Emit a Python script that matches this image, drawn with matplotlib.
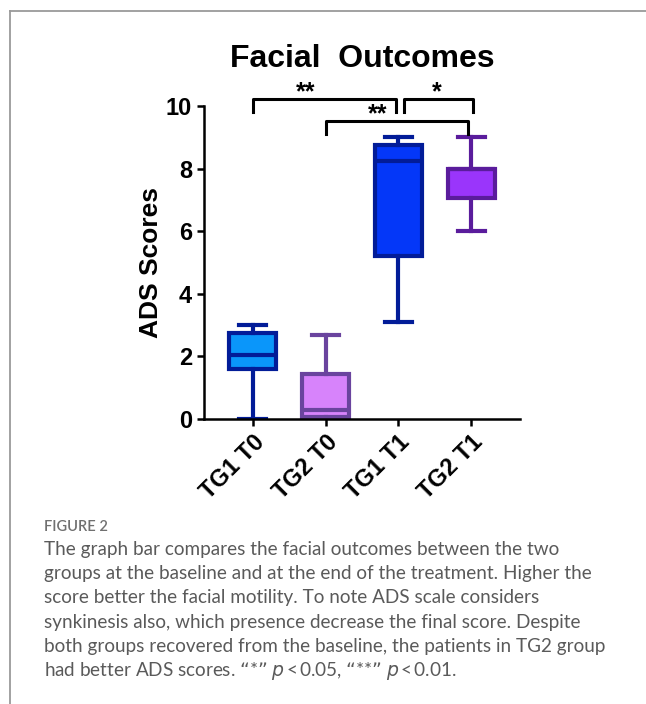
import matplotlib.pyplot as plt
from matplotlib.lines import Line2D

# dados (resumo de cada box)
grupos = ['TG1 T0', 'TG2 T0', 'TG1 T1', 'TG2 T1']
minimos = [0.0, 0.0, 3.1, 6.0]
q1 = [1.6, 0.05, 5.2, 7.05]
medianas = [2.05, 0.28, 8.25, 8.0]
q3 = [2.75, 1.45, 8.75, 8.0]
maximos = [3.0, 2.7, 9.0, 9.0]

cores_caixa = ['#0A96FA', '#D783FB', '#0437F8', '#9A35FB']
cores_borda = ['#021C98', '#6A449E', '#021C98', '#5A1C9C']

# comparações (início, fim, altura, posição do texto, texto)
comparacoes = [(0, 1.97, 10.22, 0.72, '**'),
               (2.07, 3.03, 10.22, 2.53, '*'),
               (1, 2.96, 9.52, 1.72, '**')]

plt.rcParams['font.family'] = ['Liberation Sans', 'DejaVu Sans']

fig = plt.figure(figsize=(6.46, 7.04), dpi=100)
ax = fig.add_axes([0.3158, 0.4048, 0.805 - 0.3158, 0.8494 - 0.4048])

stats = []
for i in range(len(grupos)):
    stats.append({'whislo': minimos[i], 'q1': q1[i], 'med': medianas[i],
                  'q3': q3[i], 'whishi': maximos[i], 'label': grupos[i]})

bp = ax.bxp(stats, positions=range(len(grupos)), widths=0.65, patch_artist=True,
            showfliers=False, capwidths=0.37)
for i in range(len(grupos)):
    bp['boxes'][i].set(facecolor=cores_caixa[i], edgecolor=cores_borda[i], linewidth=3)
    bp['medians'][i].set(color=cores_borda[i], linewidth=3)
    for k in (2 * i, 2 * i + 1):
        bp['whiskers'][k].set(color=cores_borda[i], linewidth=3)
        bp['caps'][k].set(color=cores_borda[i], linewidth=3)

ax.set_xlim(-0.67, 3.67)
ax.set_ylim(0, 10)
ax.set_yticks([0, 2, 4, 6, 8, 10])
ax.spines['top'].set_visible(False)
ax.spines['right'].set_visible(False)
ax.spines['left'].set_linewidth(1.8)
ax.spines['bottom'].set_linewidth(1.8)
ax.tick_params(width=1.8, length=5)
ax.set_yticklabels([str(v) for v in [0, 2, 4, 6, 8, 10]], fontsize=17, fontweight='bold')
ax.set_xticklabels(grupos, rotation=45, ha='right', rotation_mode='anchor',
                   fontsize=17, fontweight='bold')
ax.set_ylabel('ADS Scores', fontsize=19, fontweight='bold', labelpad=2)
ax.set_title('Facial  Outcomes', fontsize=23, fontweight='bold', pad=28)

# colchetes de significância
for a, b, h, xt, txt in comparacoes:
    ax.plot([a, a, b, b], [h - 0.42, h, h, h - 0.42], color='black', linewidth=2.2,
            clip_on=False)
    ax.text(xt, h - 0.02, txt, ha='center', va='baseline', fontsize=18,
            fontweight='bold')

# moldura e legenda da figura
fig.add_artist(Line2D([9.5 / 646, 9.5 / 646], [0, 1 - 10.5 / 704], color='#9a9a9a', linewidth=1.3))
fig.add_artist(Line2D([9.5 / 646, 1], [1 - 10.5 / 704, 1 - 10.5 / 704], color='#9a9a9a', linewidth=1.3))

fig.text(44 / 646, 1 - 527 / 704, 'FIGURE 2', fontsize=10.5, color='#707070',
         family=['Lato', 'DejaVu Sans'], fontweight='semibold', va='center')
linhas = ['The graph bar compares the facial outcomes between the two',
          'groups at the baseline and at the end of the treatment. Higher the',
          'score better the facial motility. To note ADS scale considers',
          'synkinesis also, which presence decrease the final score. Despite',
          'both groups recovered from the baseline, the patients in TG2 group',
          'had better ADS scores. \u201c*\u201d $p$\u2009<\u20090.05, \u201c**\u201d $p$\u2009<\u20090.01.']
for i, linha in enumerate(linhas):
    fig.text(44 / 646, 1 - (555 + 24.2 * i) / 704, linha, fontsize=13.6, color='#5a5a5a',
             family=['Lato', 'DejaVu Sans'], va='baseline')

plt.savefig('out.png', dpi=100)
